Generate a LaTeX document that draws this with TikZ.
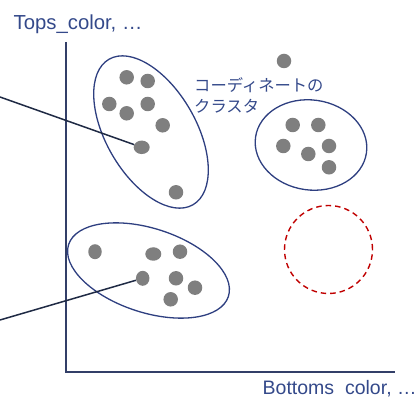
\documentclass[tikz,border=0pt]{standalone}
\usepackage{fontspec}
\setmainfont{Liberation Sans}
\newfontfamily\jpfont{Noto Sans CJK JP}
\usetikzlibrary{shapes.geometric}
\definecolor{txtblue}{HTML}{34498A}
\definecolor{ringblue}{HTML}{2E3F80}
\definecolor{axisblue}{HTML}{333F68}
\definecolor{ptrnavy}{HTML}{1F2A44}
\definecolor{dotgray}{HTML}{7F7F7F}
\definecolor{ringred}{HTML}{C00000}
\begin{document}
\begin{tikzpicture}[x=1pt,y=1pt,
  dot/.style={ellipse,fill=dotgray,inner sep=0,minimum width=14.5,minimum height=14.5},
  widedot/.style={dot,minimum width=16,minimum height=13.5},
  talldot/.style={dot,minimum width=13.5,minimum height=15},
  ring/.style={draw=ringblue,line width=1.3},
  axisline/.style={draw=axisblue,line width=1.5},
  pointer/.style={draw=ptrnavy,line width=1.5},
  lbl/.style={text=txtblue,inner sep=0,anchor=base west,font=\fontsize{19.5}{23}\selectfont},
  jlbl/.style={text=txtblue,inner sep=0,anchor=base west,font=\jpfont\fontsize{16.3}{21}\selectfont}]
\useasboundingbox (0,0) rectangle (418,399);

% axes
\coordinate (O) at (66,27);
\coordinate (Ytop) at (66,357);
\coordinate (Xend) at (395,27);
\draw[axisline] (Ytop) -- (O) -- (Xend);

% labels
\node[lbl,font=\fontsize{20.3}{24}\selectfont] (ylab) at (13.5,369.7) {Tops\_color, …};
\node[lbl] (xlab) at (262.5,4.5) {Bottoms\ \ color, …};
\node[jlbl] (jl1) at (194,307) {コーディネートの};
\node[jlbl] (jl2) at (194,286) {クラスタ};

% cluster outlines
\draw[ring] (151,267) ellipse [x radius=84, y radius=45, rotate=-60];
\draw[ring] (148.5,128.5) ellipse [x radius=84, y radius=42, rotate=-18];
\draw[ring] (311,254) ellipse [x radius=56, y radius=45, rotate=-8];
\draw[draw=ringred,line width=1.4,dash pattern=on 5.5pt off 4pt] (328.5,149.5) circle [radius=44];

% cluster A
\node[dot] (a1) at (126.7,321.7) {};
\node[dot] (a2) at (147.7,318) {};
\node[dot] (a3) at (109.3,295) {};
\node[dot] (a4) at (147.7,295) {};
\node[dot] (a5) at (126.7,285.7) {};
\node[dot] (a6) at (162.7,273.7) {};
\node[widedot] (a7) at (141.7,251.7) {};
\node[dot] (a8) at (176,206.7) {};
% cluster B
\node[talldot] (b1) at (95,147.3) {};
\node[widedot] (b2) at (153.3,145) {};
\node[dot] (b3) at (180,147.3) {};
\node[talldot] (b4) at (142.7,120.7) {};
\node[dot] (b5) at (176,120.7) {};
\node[dot] (b6) at (195,111.3) {};
\node[dot] (b7) at (170.7,99.7) {};
% cluster C
\node[dot] (c1) at (292.7,274) {};
\node[dot] (c2) at (318.3,274) {};
\node[dot] (c3) at (283.3,253) {};
\node[dot] (c4) at (308.3,245) {};
\node[dot] (c5) at (329,253) {};
\node[dot] (c6) at (329,231.7) {};
% lone dot
\node[dot] (d1) at (284,338) {};

% pointers
\coordinate (p1) at (0,302);
\coordinate (p2) at (0,79);
\draw[pointer] (p1) -- (a7);
\draw[pointer] (p2) -- (b4);
\end{tikzpicture}
\end{document}
